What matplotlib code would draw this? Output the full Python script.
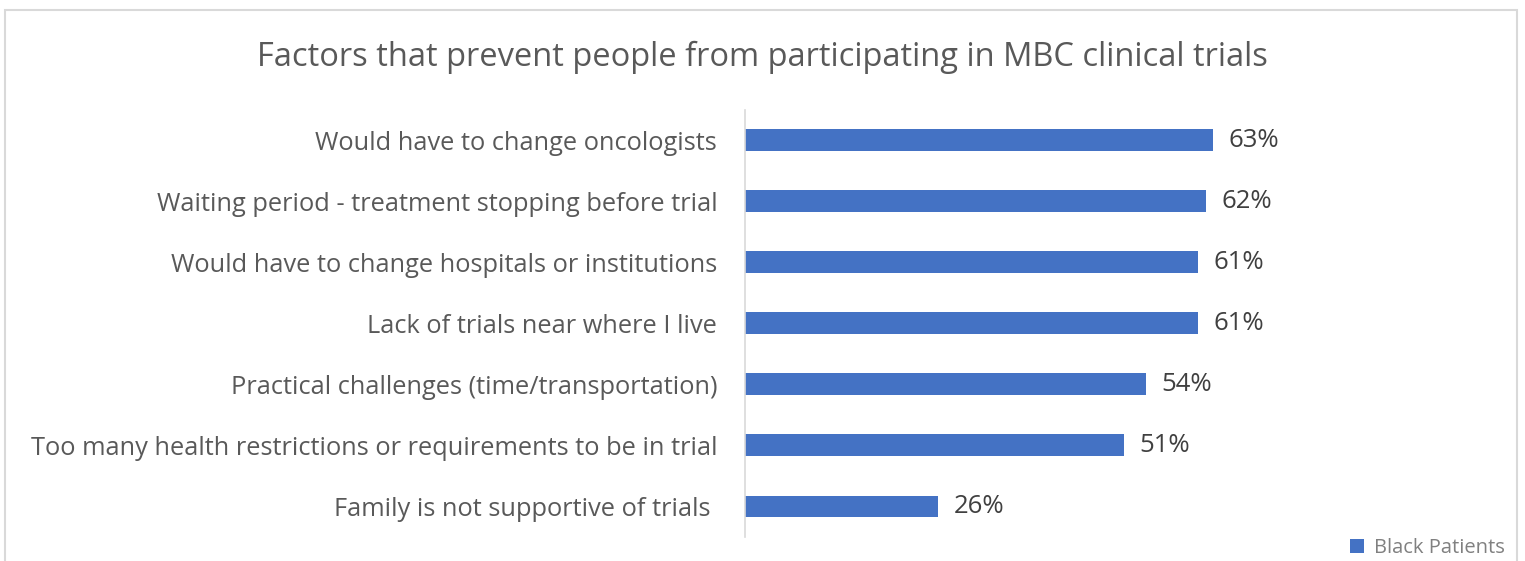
import matplotlib.pyplot as plt
from matplotlib.patches import Rectangle

categories = ["Would have to change oncologists",
              "Waiting period - treatment stopping before trial",
              "Would have to change hospitals or institutions",
              "Lack of trials near where I live",
              "Practical challenges (time/transportation)",
              "Too many health restrictions or requirements to be in trial",
              "Family is not supportive of trials "]
values = [63, 62, 61, 61, 54, 51, 26]
series_name = "Black Patients"

plt.rcParams['font.family'] = ['Open Sans', 'DejaVu Sans']

fig = plt.figure(figsize=(15.25, 5.61), dpi=100)
ax = fig.add_axes([0.4885, 0.0428, 0.341, 0.7613])

y = list(range(len(categories)))[::-1]
ax.barh(y, values, height=0.36, color="#4472C4", label=series_name)
for yi, v in zip(y, values):
    ax.text(v + 2.1, yi, f"{v}%", va="center", ha="left", fontsize=18.5, color="#404040")

ax.set_xlim(0, 70)
ax.set_ylim(-0.5, 6.5)
ax.set_yticks(y)
ax.set_yticklabels(categories, fontsize=18.3, color="#595959")
ax.tick_params(axis="y", length=0, pad=20)
ax.set_xticks([])
for s in ["top", "right", "bottom"]:
    ax.spines[s].set_visible(False)
ax.spines["left"].set_color("#D9D9D9")
ax.spines["left"].set_linewidth(1.2)

fig.text(0.4997, 0.897, "Factors that prevent people from participating in MBC clinical trials",
         ha="center", va="center", fontsize=23.5, color="#595959")

leg = fig.legend(loc="lower right", bbox_to_anchor=(0.999, -0.027), frameon=False,
                 fontsize=14.5, labelcolor="#808080", handlelength=0.7, handleheight=0.7,
                 handletextpad=0.5)

fig.patches.append(Rectangle((5 / 1525, -0.01), 1512 / 1525, 1 - 10 / 561 + 0.01,
                             transform=fig.transFigure, fill=False,
                             edgecolor="#D9D9D9", linewidth=1.5))

fig.savefig("out.png", dpi=100)
